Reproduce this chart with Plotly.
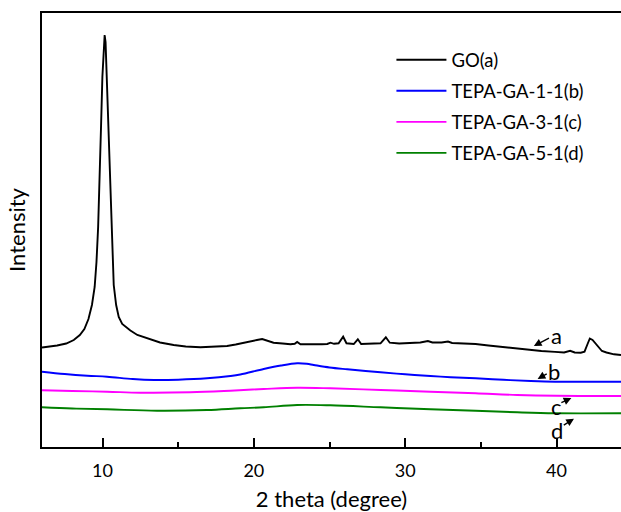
import plotly.graph_objects as go

# ---- data (2 theta in degrees, intensity in arbitrary counts) ----
go_x = [6.0, 7.0, 7.6, 8.1, 8.5, 8.8, 9.07, 9.3, 9.48, 9.6, 9.71, 9.8, 9.90, 9.99, 10.08, 10.14,
        10.20, 10.28, 10.37, 10.47, 10.57, 10.65, 10.74, 10.9, 11.07, 11.3, 11.6, 11.84, 12.3,
        12.95, 13.8, 14.7, 15.5, 16.47, 17.3,
        18.23, 18.8, 19.3, 19.77, 20.2, 20.55, 20.9, 21.3, 21.9, 22.42, 22.7, 22.86, 23.08,
        23.8, 24.5, 24.85, 25.06, 25.3, 25.6, 25.9, 26.12, 26.6, 26.87, 27.09, 27.8, 28.37,
        28.72, 28.98, 29.6, 30.35, 31.0, 31.5, 31.8, 32.4, 32.83, 33.1, 34.0, 34.65, 35.5,
        36.4, 37.28, 38.2, 39.0, 39.9, 40.5, 40.9, 41.2, 41.6, 41.85, 42.05, 42.2, 42.38,
        42.55, 42.75, 43.0, 43.3, 43.8, 44.26]
go_y = [995, 1015, 1035, 1070, 1120, 1180, 1280, 1420, 1600, 1850, 2200, 2600, 3200, 3700, 4050, 4120,
        4050, 3700, 3250, 2700, 2250, 1900, 1620, 1420, 1300, 1230, 1190, 1165, 1120,
        1087, 1045, 1020, 1005, 997, 1000,
        1010, 1025, 1043, 1053, 1070, 1080, 1065, 1043, 1035, 1027, 1032, 1050, 1027,
        1025, 1028, 1030, 1043, 1032, 1037, 1103, 1037, 1030, 1077, 1030, 1032, 1037,
        1097, 1043, 1035, 1037, 1045, 1060, 1045, 1045, 1055, 1040, 1035, 1030, 1015,
        1000, 985, 970, 960, 951, 945, 962, 945, 943, 953, 1030, 1085, 1070,
        1040, 1005, 960, 945, 927, 920]

b_x = [6.0, 7.5, 9.0, 10.3, 12.0, 13.4, 15.0, 16.9, 18.45, 19.1, 20.65, 21.8, 22.86, 23.5,
       23.96, 25.0, 26.17, 28.37, 30.0, 31.67, 33.0, 34.65, 36.5, 38.3, 39.9, 42.0, 44.26]
b_y = [753, 730, 713, 703, 680, 670, 673, 687, 710, 725, 780, 815, 837, 832,
       820, 795, 777, 747, 727, 710, 698, 687, 672, 660, 653, 652, 653]

c_x = [6.0, 8.0, 10.3, 12.5, 15.8, 18.45, 20.65, 22.86, 25.06, 28.37, 31.67, 34.65, 37.4, 40.0, 44.26]
c_y = [567, 560, 553, 543, 547, 563, 580, 593, 587, 570, 553, 537, 520, 512, 510]

d_x = [6.0, 8.0, 10.3, 13.6, 16.9, 19.1, 20.65, 22.86, 25.06, 28.37, 31.67, 34.65, 37.4, 39.9, 44.26]
d_y = [397, 385, 377, 363, 370, 387, 397, 420, 417, 397, 377, 363, 347, 337, 337]

series_names = ["GO(a)", "TEPA-GA-1-1(b)", "TEPA-GA-3-1(c)", "TEPA-GA-5-1(d)"]
series_colors = ["#000000", "#0000FF", "#FF00FF", "#008000"]

# curve labels: letter, text position, arrow tail, arrow head
label_text = ["a", "b", "c", "d"]
label_pos = [(39.99, 1120), (39.82, 753), (40.0, 410), (40.0, 170)]
arrow_tail = [(39.60, 1097), (39.45, 740), (40.22, 437), (40.38, 210)]
arrow_head = [(38.50, 1010), (38.75, 680), (40.98, 490), (41.15, 282)]

x_range = [6, 44.26]
y_range = [0, 4340]
x_ticks = [10, 20, 30, 40]

FONT = "Lato, Open Sans, sans-serif"

fig = go.Figure()
data = [(go_x, go_y, "linear"), (b_x, b_y, "spline"), (c_x, c_y, "spline"), (d_x, d_y, "spline")]
for i, (xs, ys, shp) in enumerate(data):
    fig.add_trace(go.Scatter(
        x=xs, y=ys, mode="lines", name=series_names[i],
        line=dict(color=series_colors[i], width=1.9, shape=shp),
        legendgroup=str(i),
    ))

annotations = []
for t, (tx, ty), (ax_, ay_), (hx, hy) in zip(label_text, label_pos, arrow_tail, arrow_head):
    annotations.append(dict(x=tx, y=ty, xref="x", yref="y", text=t, showarrow=False,
                            font=dict(family=FONT, size=22, color="black")))
    annotations.append(dict(x=hx, y=hy, ax=ax_, ay=ay_, xref="x", yref="y",
                            axref="x", ayref="y", text="", showarrow=True,
                            arrowhead=2, arrowsize=1.1, arrowwidth=1.4, arrowcolor="black",
                            standoff=0, startstandoff=0))

fig.update_layout(
    width=621, height=512,
    margin=dict(l=42, r=0, t=13, b=65),
    paper_bgcolor="white", plot_bgcolor="white",
    font=dict(family=FONT, size=18, color="black"),
    showlegend=True,
    legend=dict(x=0.6035, y=0.935, xanchor="left", yanchor="top",
                bgcolor="rgba(0,0,0,0)", font=dict(family=FONT, size=18.5),
                traceorder="grouped", tracegroupgap=4, itemwidth=50),
    annotations=annotations,
    xaxis=dict(range=x_range, tickvals=x_ticks, ticks="inside", ticklen=9, tickwidth=1.5,
               tickcolor="black", showline=True, linecolor="black", linewidth=2,
               mirror=True, showgrid=False, zeroline=False,
               minor=dict(ticks="inside", dtick=5, tick0=0, ticklen=5, tickwidth=1.5,
                          tickcolor="black", showgrid=False),
               tickfont=dict(family=FONT, size=18), ticklabelstandoff=6,
               title=dict(text="2 theta (degree)", font=dict(family=FONT, size=22), standoff=12)),
    yaxis=dict(range=y_range, showticklabels=False, ticks="", showline=True, linecolor="black",
               linewidth=2, mirror=False, showgrid=False, zeroline=False,
               title=dict(text="Intensity", font=dict(family=FONT, size=22), standoff=8)),
)

fig.write_html("out.html", post_script="document.body.style.margin='0px';",
               config={"displayModeBar": False})
